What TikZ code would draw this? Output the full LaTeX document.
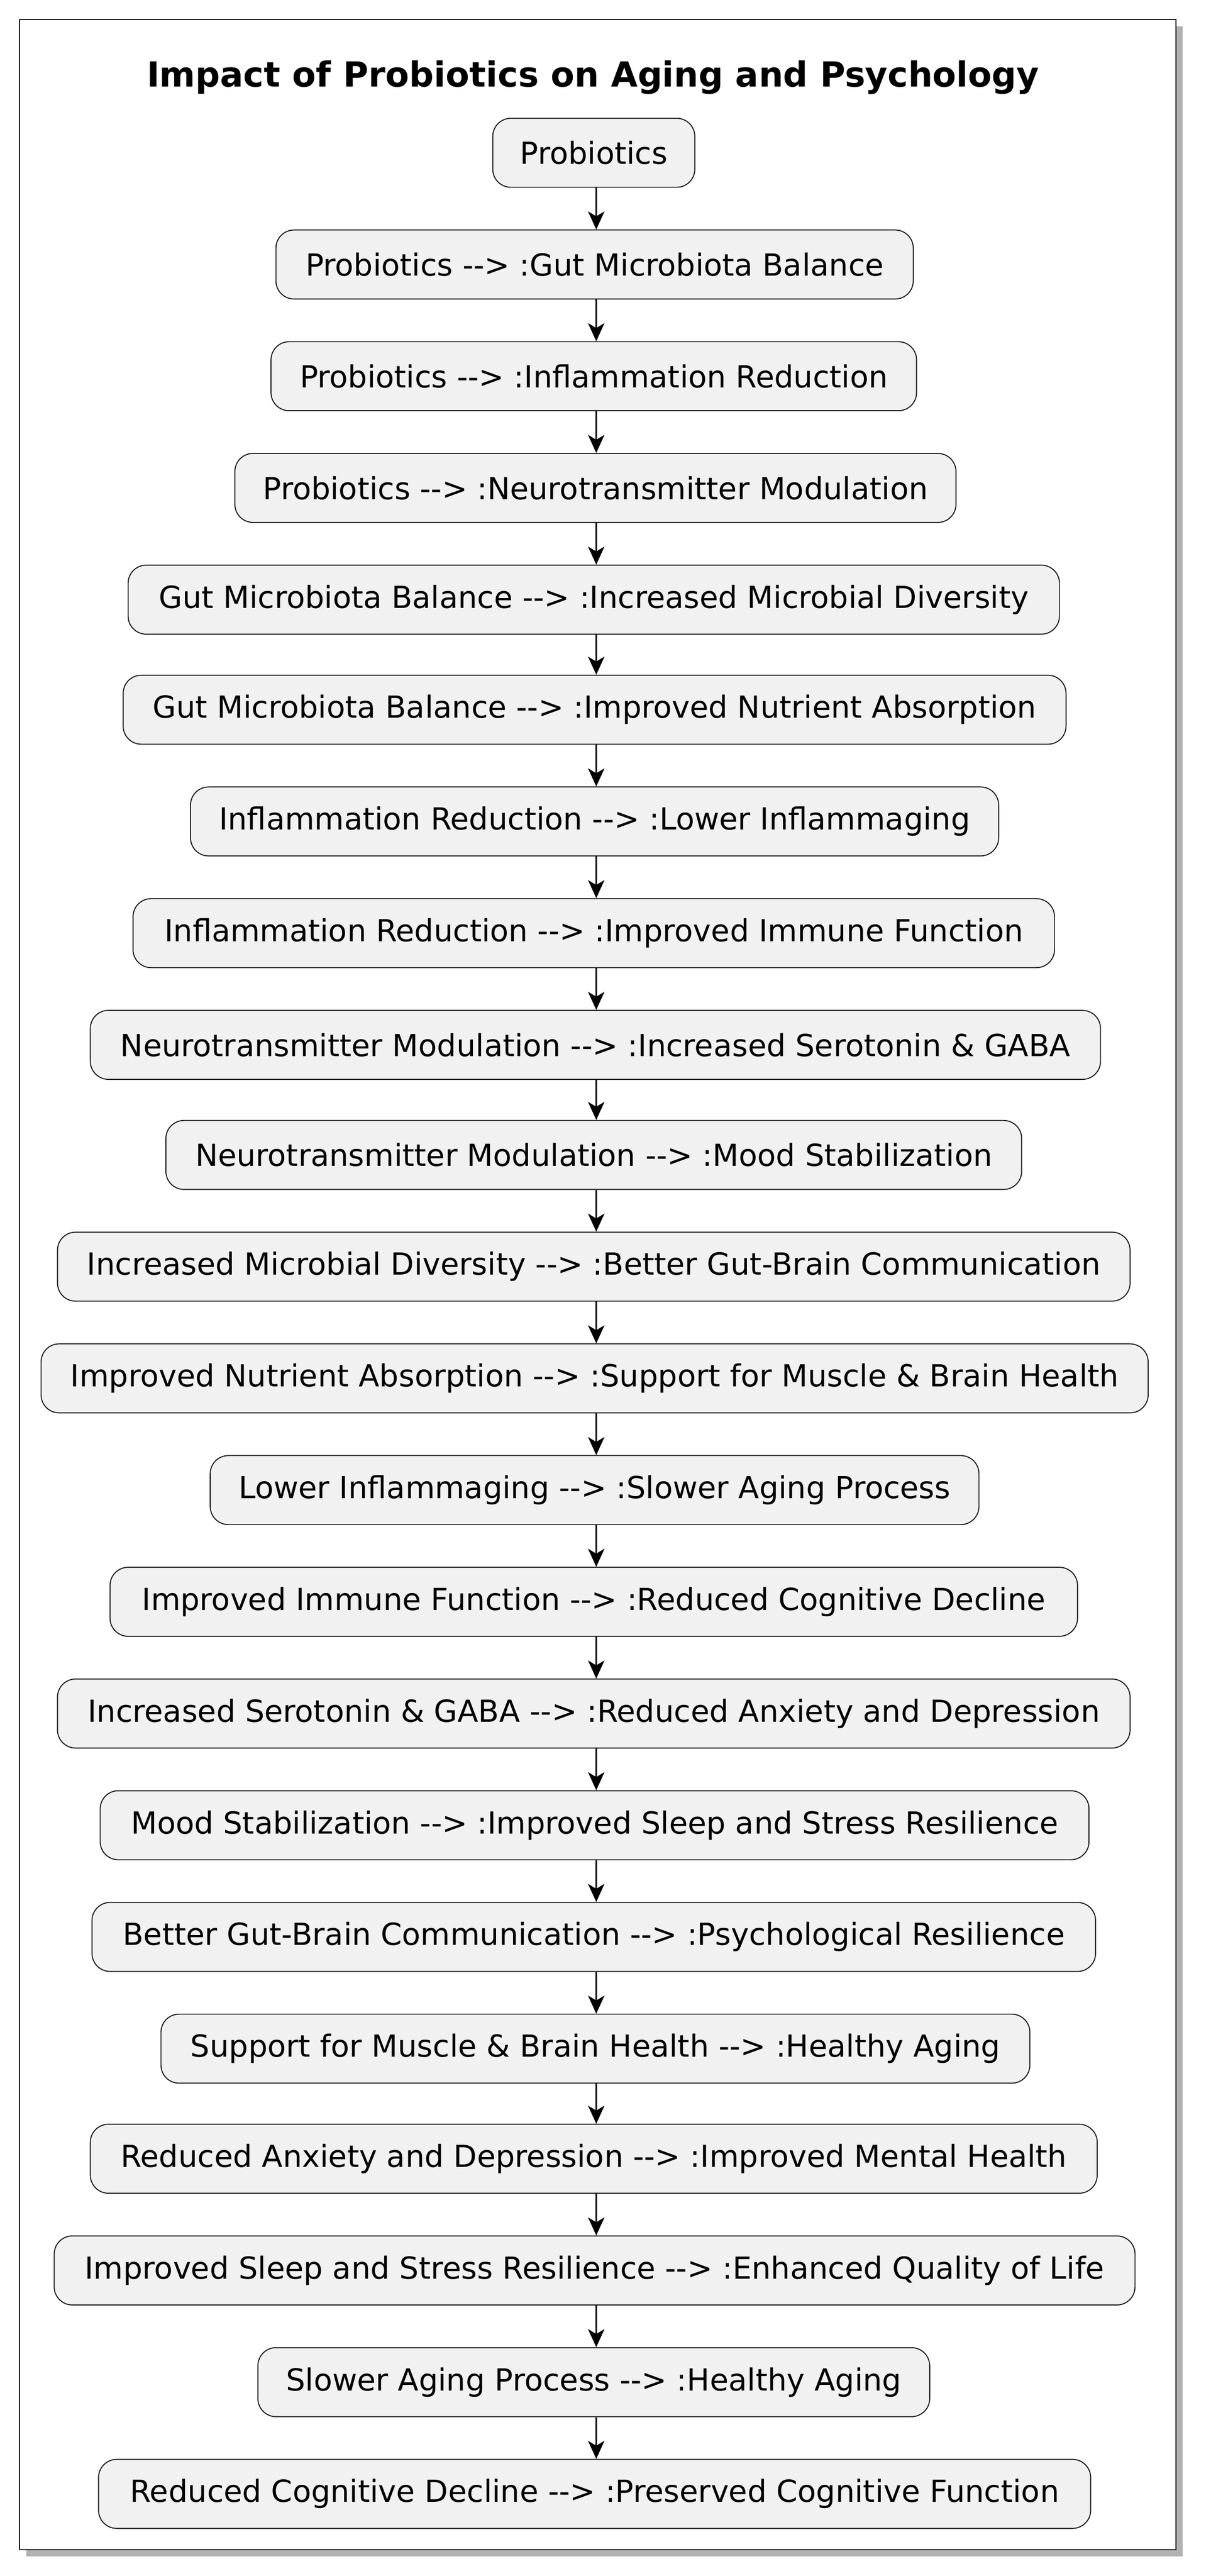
\documentclass[tikz,border=0pt]{standalone}
\usepackage{fontspec}
\setmainfont{DejaVu Sans}
\usetikzlibrary{arrows.meta}
\definecolor{boxfill}{HTML}{F1F1F1}
\definecolor{boxline}{HTML}{181818}
\begin{document}
\begin{tikzpicture}[x=1pt,y=-1pt,
  box/.style={draw=boxline,fill=boxfill,rounded corners=11pt,line width=0.6pt,minimum height=42pt,inner sep=0pt,font=\fontsize{18.5}{21}\selectfont},
  arr/.style={-{Stealth[length=11pt,width=10pt,inset=3pt]},line width=0.9pt,black}]
\useasboundingbox (0,0) rectangle (737,1568);
\fill[gray!60] (16,16) rectangle (720,1556);
\draw[fill=white,line width=0.6pt] (12,12) rectangle (716,1552);
\node[font=\bfseries\fontsize{21}{24}\selectfont] (title) at (361,47) {Impact of Probiotics on Aging and Psychology};
\coordinate (ax) at (363,0);
\foreach \i/\y/\a/\b/\t in {
1/93/300/423/{Probiotics},
2/161/168/556/{Probiotics -{}-> :Gut Microbiota Balance},
3/229/165/558/{Probiotics -{}-> :Inflammation Reduction},
4/297/143/582/{Probiotics -{}-> :Neurotransmitter Modulation},
5/365/78/645/{Gut Microbiota Balance -{}-> :Increased Microbial Diversity},
6/432/75/649/{Gut Microbiota Balance -{}-> :Improved Nutrient Absorption},
7/500/116/608/{Inflammation Reduction -{}-> :Lower Inflammaging},
8/568/81/642/{Inflammation Reduction -{}-> :Improved Immune Function},
9/636/55/670/{Neurotransmitter Modulation -{}-> :Increased Serotonin \& GABA},
10/703/101/622/{Neurotransmitter Modulation -{}-> :Mood Stabilization},
11/771/35/688/{Increased Microbial Diversity -{}-> :Better Gut-Brain Communication},
12/839/25/699/{Improved Nutrient Absorption -{}-> :Support for Muscle \& Brain Health},
13/907/128/596/{Lower Inflammaging -{}-> :Slower Aging Process},
14/975/67/656/{Improved Immune Function -{}-> :Reduced Cognitive Decline},
15/1043/35/688/{Increased Serotonin \& GABA -{}-> :Reduced Anxiety and Depression},
16/1111/61/663/{Mood Stabilization -{}-> :Improved Sleep and Stress Resilience},
17/1179/56/667/{Better Gut-Brain Communication -{}-> :Psychological Resilience},
18/1247/98/627/{Support for Muscle \& Brain Health -{}-> :Healthy Aging},
19/1314/55/668/{Reduced Anxiety and Depression -{}-> :Improved Mental Health},
20/1382/33/691/{Improved Sleep and Stress Resilience -{}-> :Enhanced Quality of Life},
21/1450/157/566/{Slower Aging Process -{}-> :Healthy Aging},
22/1518/60/664/{Reduced Cognitive Decline -{}-> :Preserved Cognitive Function}}
{\node[box,minimum width={\b-\a}] (b\i) at ({(\a+\b)/2},\y) {\t};}
\foreach \i [evaluate=\i as \j using int(\i+1)] in {1,...,21}
  {\draw[arr] (b\i.south -| ax) -- (b\j.north -| ax);}
\end{tikzpicture}
\end{document}
